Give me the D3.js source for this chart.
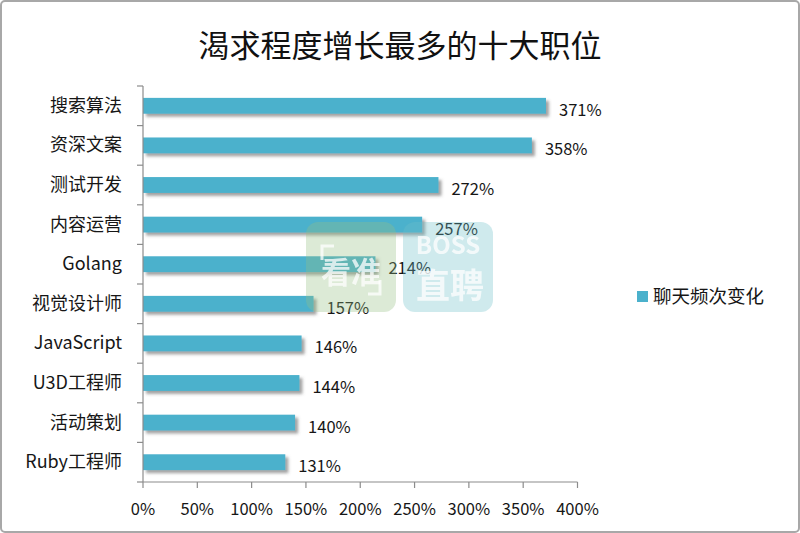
<!DOCTYPE html>
<html><head><meta charset="utf-8">
<script src="https://cdn.jsdelivr.net/npm/d3@7"></script>
<style>body{margin:0;background:#fff}svg{display:block}text{font-family:"Noto Sans CJK SC","Noto Sans",sans-serif}</style>
</head><body>
<svg id="c" width="800" height="533"></svg>
<script>
const categories = ["搜索算法","资深文案","测试开发","内容运营","Golang","视觉设计师","JavaScript","U3D工程师","活动策划","Ruby工程师"];
const values = [371,358,272,257,214,157,146,144,140,131];
const xTicks = [0,50,100,150,200,250,300,350,400];
const title = "渴求程度增长最多的十大职位";
const seriesName = "聊天频次变化";

const svg = d3.select("#c");
const defs = svg.append("defs");
const f = defs.append("filter").attr("id","sh").attr("x","-5%").attr("y","-50%").attr("width","115%").attr("height","250%");
f.append("feDropShadow").attr("dx",3).attr("dy",3).attr("stdDeviation",1.8).attr("flood-color","#555").attr("flood-opacity",0.55);

svg.append("rect").attr("x",1).attr("y",1).attr("width",798).attr("height",531).attr("rx",4)
  .attr("fill","#fff").attr("stroke","#a8a8a8").attr("stroke-width",2);

svg.append("text").attr("x",400).attr("y",57).attr("text-anchor","middle")
  .attr("font-size",31).attr("fill","#111").text(title);

const x = d3.scaleLinear().domain([0,400]).range([143,577.5]);
const y = d3.scaleBand().domain(categories).range([86,482]).paddingInner(0.6).paddingOuter(0.3);
const step = y.step();

// bars
svg.append("g").selectAll("rect").data(values).join("rect")
  .attr("x",x(0)).attr("y",(d,i)=>y(categories[i]))
  .attr("width",d=>x(d)-x(0)).attr("height",y.bandwidth())
  .attr("fill","#4bb1cc").attr("filter","url(#sh)");

// value labels
svg.append("g").selectAll("text").data(values).join("text")
  .attr("x",d=>x(d)+13).attr("y",(d,i)=>y(categories[i])+y.bandwidth()/2+10)
  .attr("font-size",16.5).attr("fill","#161616").text(d=>d+"%");

// y axis
const ya = svg.append("g");
ya.append("line").attr("x1",x(0)).attr("x2",x(0)).attr("y1",86).attr("y2",482).attr("stroke","#8c8c8c").attr("stroke-width",1.2);
ya.selectAll("line.t").data(d3.range(categories.length+1)).join("line").attr("class","t")
  .attr("x1",x(0)-6).attr("x2",x(0)).attr("y1",i=>86+i*step).attr("y2",i=>86+i*step)
  .attr("stroke","#8c8c8c").attr("stroke-width",1.2);
ya.selectAll("text").data(categories).join("text")
  .attr("x",122).attr("y",d=>y(d)+y.bandwidth()/2+6).attr("text-anchor","end")
  .attr("font-size",18).attr("fill","#161616").text(d=>d);

// x axis
const xa = svg.append("g");
xa.append("line").attr("x1",x(0)).attr("x2",x(400)).attr("y1",482).attr("y2",482).attr("stroke","#8c8c8c").attr("stroke-width",1.2);
xa.selectAll("line.t").data(xTicks).join("line").attr("class","t")
  .attr("x1",d=>x(d)).attr("x2",d=>x(d)).attr("y1",482).attr("y2",488)
  .attr("stroke","#8c8c8c").attr("stroke-width",1.2);
xa.selectAll("text").data(xTicks).join("text")
  .attr("x",d=>x(d)).attr("y",515).attr("text-anchor","middle")
  .attr("font-size",16.5).attr("fill","#161616").text(d=>d+"%");

// legend
svg.append("rect").attr("x",637).attr("y",291).attr("width",11).attr("height",11).attr("fill","#4bb1cc");
svg.append("text").attr("x",653).attr("y",303).attr("font-size",18.5).attr("fill","#161616").text(seriesName);

// watermark
const wm = svg.append("g").attr("pointer-events","none");
wm.append("rect").attr("x",306).attr("y",222).attr("width",90).attr("height",90).attr("rx",12)
  .attr("fill","rgb(150,190,130)").attr("opacity",0.33);
wm.append("rect").attr("x",403).attr("y",222).attr("width",90).attr("height",90).attr("rx",12)
  .attr("fill","rgb(110,190,200)").attr("opacity",0.33);
wm.append("text").attr("x",351).attr("y",283).attr("text-anchor","middle").attr("font-size",30)
  .attr("font-weight","bold").attr("fill","#fff").attr("opacity",0.75).text("看准");
wm.append("path").attr("d","M322 260 V246 H334 M380 280 V294 H368").attr("fill","none").attr("stroke","#fff").attr("stroke-width",3).attr("opacity",0.75);
wm.append("text").attr("x",448).attr("y",254).attr("text-anchor","middle").attr("font-size",24)
  .attr("font-weight","bold").attr("fill","#fff").attr("opacity",0.75).text("BOSS");
wm.append("text").attr("x",450).attr("y",298).attr("text-anchor","middle").attr("font-size",34)
  .attr("font-weight","bold").attr("fill","#fff").attr("opacity",0.75).text("直聘");
</script>
</body></html>
